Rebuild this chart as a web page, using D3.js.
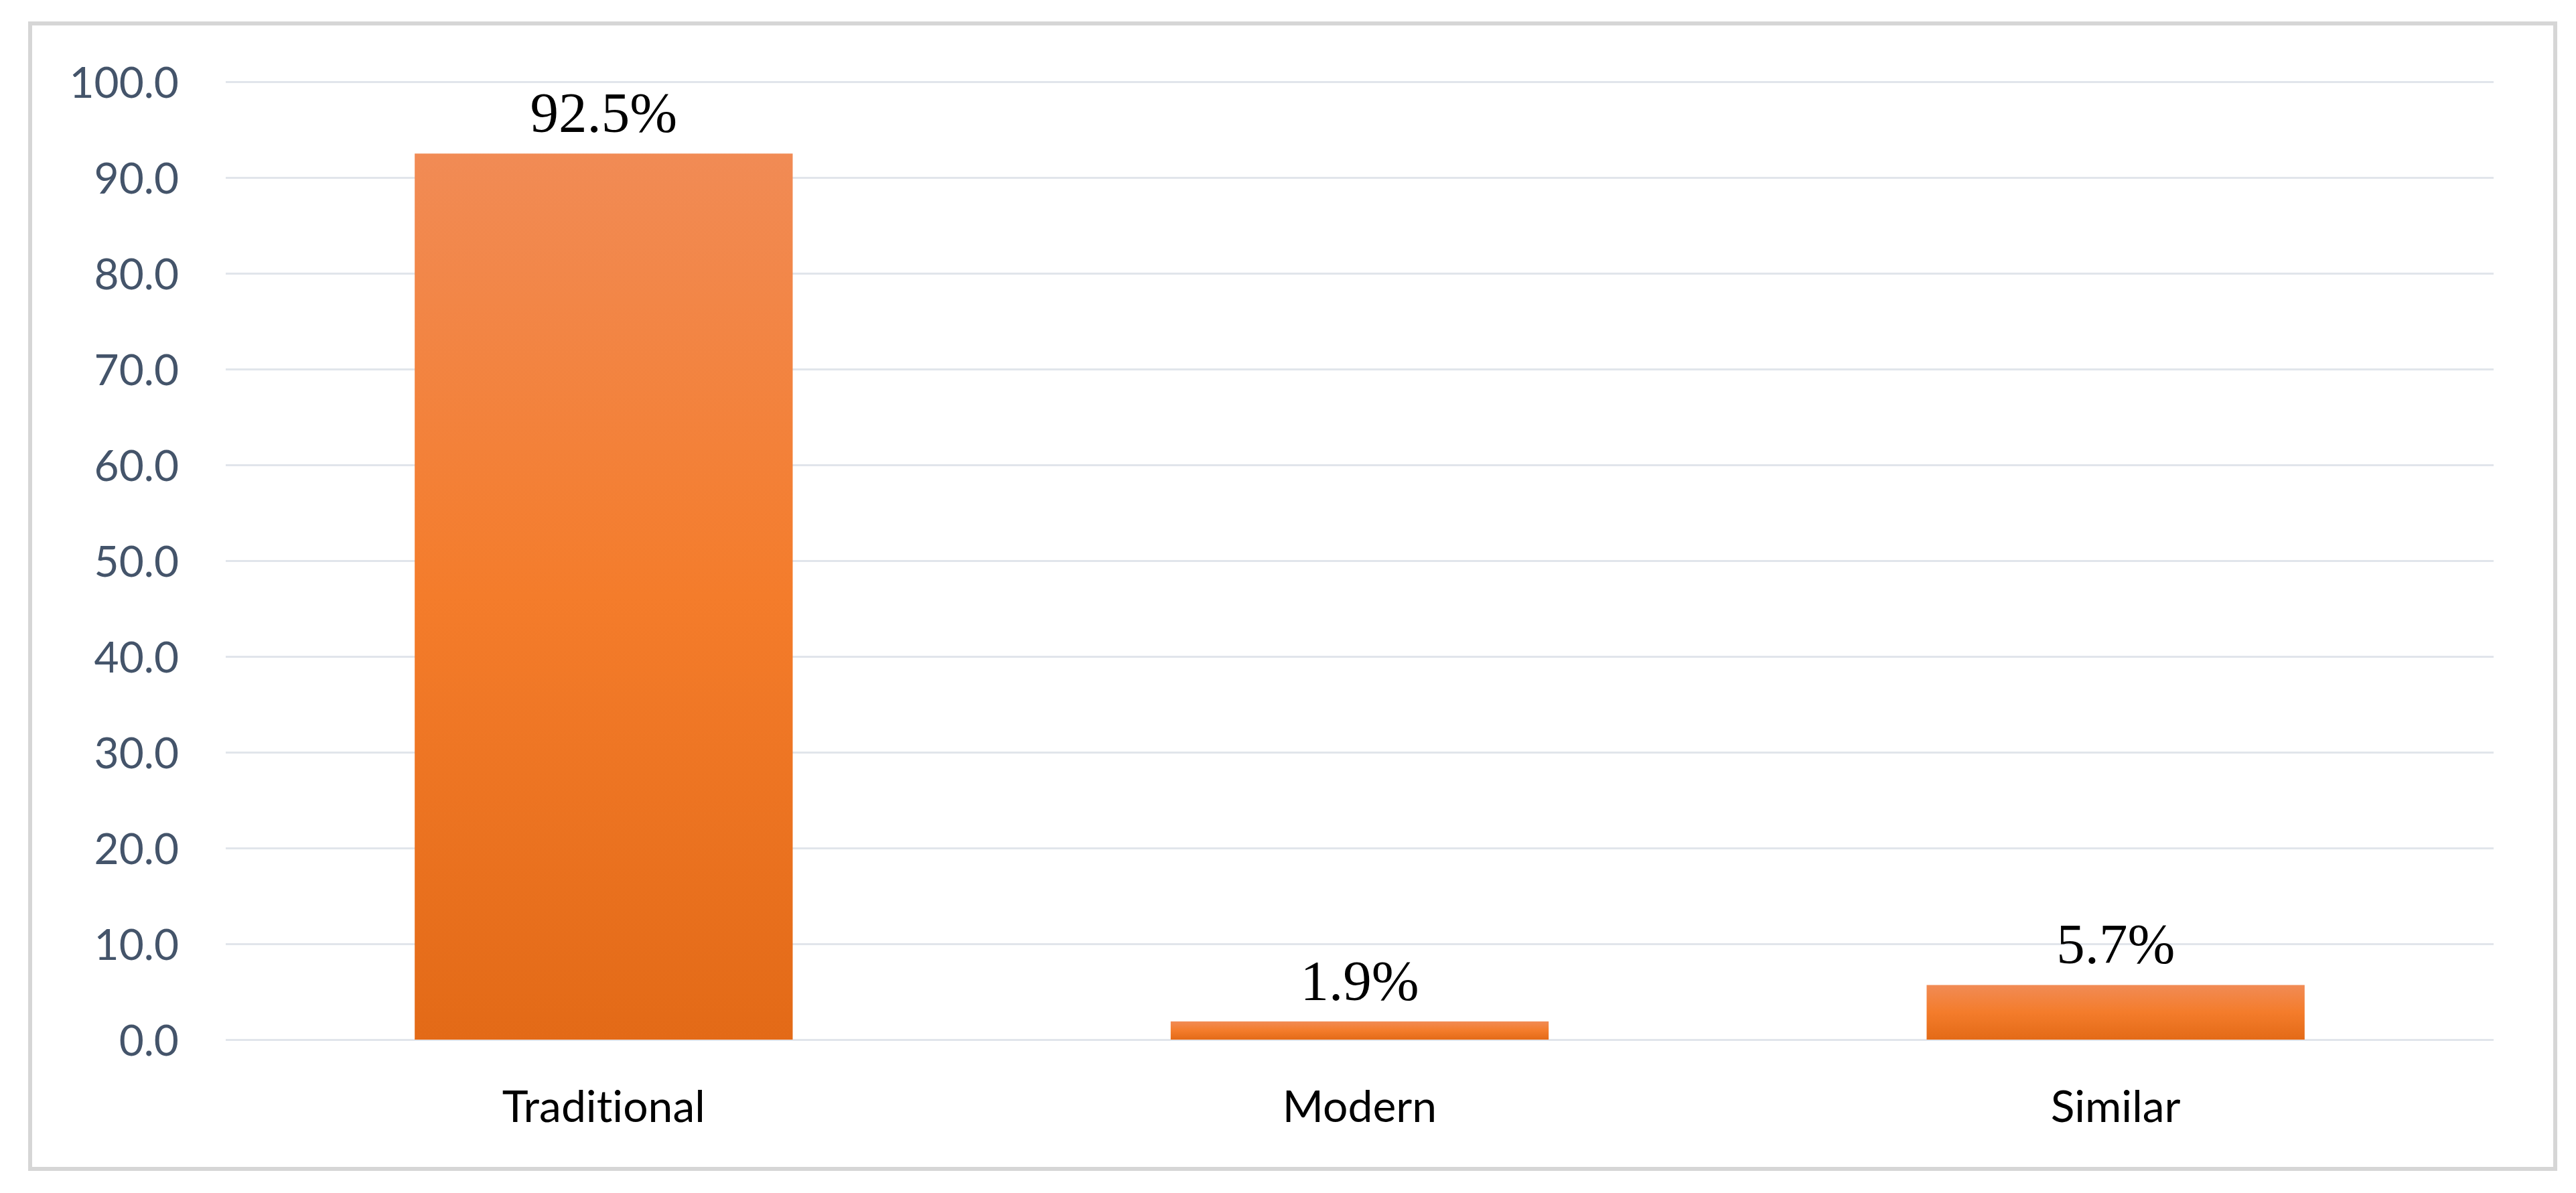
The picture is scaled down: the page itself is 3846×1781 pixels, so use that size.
<!DOCTYPE html>
<html>
<head>
<meta charset="utf-8">
<script src="https://cdn.jsdelivr.net/npm/d3@7"></script>
<style>
  html, body { margin: 0; padding: 0; background: #fff; }
  svg { display: block; }
  text { font-variant-ligatures: none; font-feature-settings: "liga" 0; }
</style>
</head>
<body>
<div id="chart"></div>
<script>
// Share of respondents by preference (percent)
const categories = ['Traditional', 'Modern', 'Similar'];
const values     = [92.5, 1.9, 5.7];
const yTicks     = [0, 10, 20, 30, 40, 50, 60, 70, 80, 90, 100];

const W = 3846, H = 1781;
const plot = { left: 337, right: 3723, top: 122, bottom: 1552 };

const svg = d3.select('#chart').append('svg')
    .attr('width', W)
    .attr('height', H);

// Bar gradient — light at the top, saturated orange in the middle, darker at the base.
const grad = svg.append('defs').append('linearGradient')
    .attr('id', 'barFill')
    .attr('x1', 0).attr('y1', 0)
    .attr('x2', 0).attr('y2', 1);
grad.append('stop').attr('offset', '0%').attr('stop-color', '#f18b55');
grad.append('stop').attr('offset', '50%').attr('stop-color', '#f47c2b');
grad.append('stop').attr('offset', '100%').attr('stop-color', '#e36a17');

// Outer frame.
svg.append('rect')
    .attr('x', 45).attr('y', 35)
    .attr('width', 3770).attr('height', 1710)
    .attr('fill', '#fff')
    .attr('stroke', '#d6d6d6')
    .attr('stroke-width', 6);

const x = d3.scaleBand()
    .domain(categories)
    .range([plot.left, plot.right])
    .paddingInner(0.5)
    .paddingOuter(0.25);

const y = d3.scaleLinear()
    .domain([0, 100])
    .range([plot.bottom, plot.top]);

// Y axis with full-width gridlines.
const yAxis = svg.append('g')
    .attr('transform', `translate(${plot.left},0)`)
    .call(d3.axisLeft(y)
        .tickValues(yTicks)
        .tickFormat(d => d.toFixed(1))
        .tickSize(-(plot.right - plot.left))
        .tickPadding(70));
yAxis.select('.domain').remove();
yAxis.selectAll('.tick line')
    .attr('stroke', '#e1e5eb')
    .attr('stroke-width', 3);
yAxis.selectAll('.tick text')
    .attr('dy', '0.36em')
    .style('font-family', 'Lato, "Open Sans", sans-serif')
    .style('font-size', '64px')
    .style('fill', '#44546a');

// Bars.
svg.append('g').selectAll('rect.bar')
    .data(values)
    .join('rect')
    .attr('class', 'bar')
    .attr('x', (d, i) => x(categories[i]))
    .attr('y', d => y(d))
    .attr('width', x.bandwidth())
    .attr('height', d => y(0) - y(d))
    .attr('fill', 'url(#barFill)');

// Value labels above each bar.
svg.append('g').selectAll('text.val')
    .data(values)
    .join('text')
    .attr('class', 'val')
    .attr('x', (d, i) => x(categories[i]) + x.bandwidth() / 2)
    .attr('y', d => y(d) - 32)
    .attr('text-anchor', 'middle')
    .style('font-family', '"Liberation Serif", "Times New Roman", serif')
    .style('font-size', '85px')
    .style('fill', '#000')
    .text(d => d.toFixed(1) + '%');

// Category axis.
const xAxis = svg.append('g')
    .attr('transform', `translate(0,${plot.bottom})`)
    .call(d3.axisBottom(x).tickSize(0).tickPadding(76));
xAxis.select('.domain').remove();
xAxis.selectAll('.tick text')
    .style('font-family', 'Lato, "Open Sans", sans-serif')
    .style('font-size', '66px')
    .style('fill', '#000');
</script>
</body>
</html>
